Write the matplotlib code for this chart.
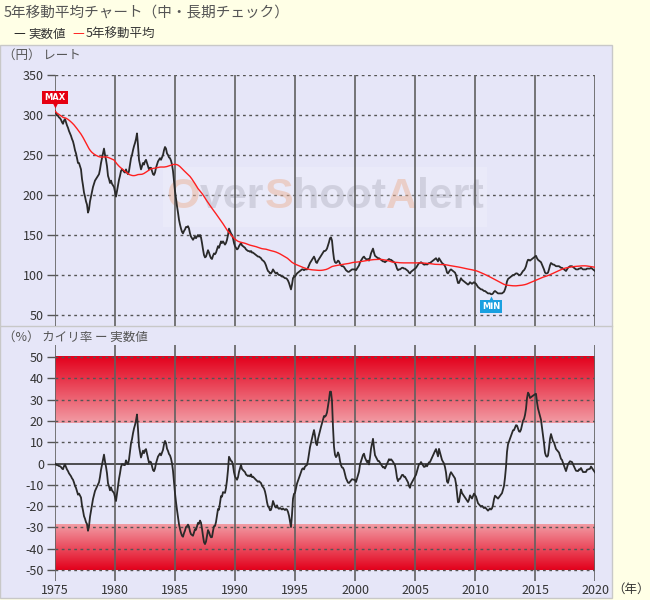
import numpy as np
import pandas as pd
import matplotlib
matplotlib.use("Agg")
import matplotlib.pyplot as plt
from matplotlib.colors import LinearSegmentedColormap
from matplotlib.patches import Rectangle
from matplotlib.transforms import offset_copy

plt.rcParams['font.family'] = ['Noto Sans CJK JP', 'DejaVu Sans']
plt.rcParams['axes.unicode_minus'] = False

# -------------------------
# Dados (USD/JPY, valores mensais)
# -------------------------
inicio = 1975
taxa_por_ano = [
    [305, 302, 300, 299, 297, 296, 294, 291, 289, 293, 295, 291],  # 1975
    [287, 284, 280, 277, 274, 270, 267, 262, 256, 252, 246, 240],  # 1976
    [240, 236, 232, 220, 212, 203, 198, 192, 188, 178, 182, 192],  # 1977
    [198, 204, 210, 214, 218, 220, 222, 224, 226, 232, 240, 246],  # 1978
    [252, 258, 250, 244, 236, 224, 220, 215, 218, 214, 212, 210],  # 1979
    [204, 198, 205, 212, 219, 224, 230, 232, 231, 229, 228, 232],  # 1980
    [228, 226, 230, 238, 246, 250, 256, 261, 265, 270, 277, 262],  # 1981
    [244, 238, 232, 236, 240, 238, 242, 244, 240, 236, 232, 234],  # 1982
    [234, 230, 226, 225, 228, 234, 238, 242, 244, 246, 244, 247],  # 1983
    [250, 256, 260, 258, 252, 250, 247, 246, 243, 238, 230, 217],  # 1984
    [205, 195, 186, 178, 169, 163, 158, 154, 152, 155, 157, 160],  # 1985
    [160, 161, 158, 152, 148, 146, 144, 146, 148, 146, 148, 150],  # 1986
    [148, 150, 147, 140, 132, 125, 122, 123, 127, 131, 128, 124],  # 1987
    [121, 120, 124, 127, 126, 128, 132, 136, 134, 138, 142, 140],  # 1988
    [142, 140, 138, 140, 144, 150, 158, 155, 152, 150, 146, 140],  # 1989
    [136, 134, 132, 133, 136, 138, 140, 137, 136, 135, 134, 132],  # 1990
    [131, 130, 130, 129, 130, 128, 128, 127, 126, 125, 124, 123],  # 1991
    [123, 122, 121, 119, 118, 117, 115, 112, 108, 105, 104, 102],  # 1992
    [102, 104, 107, 105, 103, 102, 103, 101, 100, 100, 99, 98],    # 1993
    [98, 97, 96, 96, 95, 93, 90, 86, 82, 88, 96, 98],              # 1994
    [98, 100, 102, 103, 104, 105, 106, 107, 107, 106, 107, 107],   # 1995
    [107, 109, 112, 115, 117, 119, 121, 123, 120, 116, 115, 118],  # 1996
    [120, 122, 124, 126, 128, 130, 130, 131, 133, 137, 141, 146],  # 1997
    [147, 143, 130, 120, 116, 115, 116, 118, 117, 114, 112, 111],  # 1998
    [111, 110, 108, 106, 105, 104, 104, 105, 106, 107, 107, 107],  # 1999
    [107, 106, 108, 110, 112, 116, 118, 120, 122, 123, 121, 120],  # 2000
    [119, 120, 118, 122, 127, 130, 133, 128, 124, 123, 122, 121],  # 2001
    [121, 120, 119, 118, 117, 117, 116, 117, 118, 119, 120, 119],  # 2002
    [119, 118, 117, 116, 115, 112, 108, 106, 107, 107, 108, 109],  # 2003
    [109, 108, 108, 107, 106, 105, 103, 102, 104, 105, 106, 107],  # 2004
    [108, 109, 111, 113, 115, 115, 116, 115, 114, 113, 113, 114],  # 2005
    [113, 114, 115, 115, 116, 117, 118, 119, 120, 121, 119, 117],  # 2006
    [121, 119, 117, 115, 114, 113, 111, 108, 103, 102, 104, 106],  # 2007
    [107, 106, 105, 104, 103, 100, 95, 90, 90, 93, 96, 94],        # 2008
    [93, 92, 91, 90, 89, 88, 89, 91, 90, 89, 90, 91],              # 2009
    [90, 89, 87, 85, 84, 83, 82, 82, 81, 80, 80, 79],              # 2010
    [78, 77, 77, 77, 76, 76, 77, 79, 80, 79, 78, 77],              # 2011
    [77, 77, 77, 77, 78, 79, 82, 86, 92, 95, 96, 97],              # 2012
    [98, 99, 100, 100, 101, 102, 102, 101, 100, 100, 101, 103],    # 2013
    [105, 106, 108, 111, 116, 119, 119, 118, 119, 120, 121, 122],  # 2014
    [123, 124, 121, 119, 118, 117, 116, 113, 110, 107, 103, 102],  # 2015
    [102, 103, 107, 112, 115, 114, 113, 113, 112, 111, 111, 111],  # 2016
    [111, 110, 109, 109, 108, 107, 106, 105, 107, 109, 110, 111],  # 2017
    [111, 111, 110, 109, 108, 107, 107, 107, 108, 108, 109, 108],  # 2018
    [107, 107, 107, 107, 108, 108, 108, 108, 109, 108, 107, 106],  # 2019
    [105],                                                         # 2020
]

anos_ticks = [1975, 1980, 1985, 1990, 1995, 2000, 2005, 2010, 2015, 2020]
ticks_taxa = [50, 100, 150, 200, 250, 300, 350]
ticks_kairi = [50, 40, 30, 20, 10, 0, -10, -20, -30, -40, -50]
faixa_alta = (18.8, 50)
faixa_baixa = (-50, -28.5)

# -------------------------
# Séries derivadas
# -------------------------
taxa = pd.Series([v for linha in taxa_por_ano for v in linha], dtype=float)
tempo = inicio + np.arange(len(taxa)) / 12.0
media5 = taxa.rolling(60, min_periods=1).mean()
kairi = (taxa / media5 - 1.0) * 100.0

# -------------------------
# Figura
# -------------------------
amarelo = '#FFFFE6'
lavanda = '#E6E6F8'
cinza_txt = '#555555'

fig = plt.figure(figsize=(6.5, 6.0), dpi=100, facecolor=amarelo)
W, H = 650.0, 600.0

def fx(px):
    return px / W

def fy(py):
    return 1 - py / H

# painel de fundo (atrás dos eixos)
fig.patches.append(Rectangle((fx(0), fy(598)), fx(612), 553 / H,
                             transform=fig.transFigure, facecolor=lavanda,
                             edgecolor='#C8C8C8', linewidth=1, zorder=-10))
fig.add_artist(plt.Line2D([fx(0), fx(612)], [fy(326), fy(326)],
                          transform=fig.transFigure, color='#C8C8C8', lw=1, zorder=-5))

# textos de cabeçalho
fig.text(fx(4), fy(13), '5年移動平均チャート（中・長期チェック）', fontsize=10.5,
         color=cinza_txt, va='center', ha='left')
fig.text(fx(13), fy(34), '—', fontsize=9.5, color='#222222', va='center')
fig.text(fx(28), fy(34), '実数値', fontsize=9, color='#333333', va='center')
fig.text(fx(72), fy(34), '—', fontsize=9.5, color='#FF2020', va='center')
fig.text(fx(86), fy(34), '5年移動平均', fontsize=9, color='#333333', va='center')
fig.text(fx(3), fy(55), '（円） レート', fontsize=9, color=cinza_txt, va='center')
fig.text(fx(3), fy(337), '（%） カイリ率 ー 実数値', fontsize=9, color=cinza_txt, va='center')
fig.text(fx(612), fy(589), '（年）', fontsize=9, color='#333333', va='center')


def estilo_eixo(ax, yticks, labels=True):
    ax.set_facecolor('none')
    for s in ax.spines.values():
        s.set_visible(False)
    ax.set_xlim(1975, 2020)
    ax.set_yticks(yticks)
    ax.set_yticklabels([str(v) for v in yticks])
    ax.tick_params(axis='y', length=6, width=1, color='#555555', labelsize=9,
                   labelcolor='#333333', pad=2)
    ax.set_xticks(anos_ticks)
    ax.tick_params(axis='x', length=0, labelsize=9, labelcolor='#333333', pad=2)
    if not labels:
        ax.set_xticklabels([])
    for a in anos_ticks:
        ax.axvline(a, color='#606060', lw=1.2, zorder=2)


# -------------------------
# Painel superior: taxa e média móvel
# -------------------------
ax1 = fig.add_axes([fx(55), fy(326), fx(540), (326 - 75) / H])
ax1.set_ylim(350 - 251 / 0.8, 350)
estilo_eixo(ax1, ticks_taxa, labels=False)
for v in ticks_taxa:
    ax1.axhline(v, color='#555555', lw=1, ls=(0, (2, 2.5)), zorder=1)

# marca d'água (logotipo em texto)
ax1.add_patch(Rectangle((1984.0, 160), 27.0, 75, facecolor='white', alpha=0.2,
                        edgecolor='none', zorder=1))
pedacos = [('O', '#EBA27A'), ('ver', '#A8A8B6'), ('S', '#EBA27A'),
           ('hoot', '#A8A8B6'), ('A', '#EBA27A'), ('lert', '#A8A8B6')]
anterior = None
for txt, cor in pedacos:
    kw = dict(fontsize=31, fontweight='bold', family='Liberation Sans', color=cor,
              alpha=0.38, zorder=1)
    if anterior is None:
        anterior = ax1.text(1984.3, 198, txt, ha='left', va='center', **kw)
    else:
        anterior = ax1.annotate(txt, xy=(1, 0), xycoords=anterior, ha='left',
                                va='bottom', **kw)

ax1.plot(tempo, taxa, color='#2A2A2A', lw=1.3, zorder=3)
ax1.plot(tempo, media5, color='#FF2020', lw=1.0, zorder=4)

i_max = int(taxa.idxmax())
i_min = int(taxa.idxmin())
ax1.annotate('MAX', xy=(tempo[i_max], taxa[i_max]), xytext=(0, 10),
             textcoords='offset points', ha='center', va='center',
             fontsize=6, fontweight='bold', color='white', family='DejaVu Sans',
             bbox=dict(boxstyle='square,pad=0.25', fc='#E60012', ec='none'),
             zorder=6, annotation_clip=False)
ax1.plot(tempo[i_max], taxa[i_max], marker='v', ms=4, color='#E60012', mec='none',
         transform=offset_copy(ax1.transData, fig, x=0, y=4.5, units='points'),
         zorder=6, clip_on=False)
ax1.annotate('MIN', xy=(tempo[i_min], taxa[i_min]), xytext=(0, -9),
             textcoords='offset points', ha='center', va='center',
             fontsize=6, fontweight='bold', color='white', family='DejaVu Sans',
             bbox=dict(boxstyle='square,pad=0.25', fc='#1AA0E0', ec='none'),
             zorder=6, annotation_clip=False)
ax1.plot(tempo[i_min], taxa[i_min], marker='^', ms=4, color='#1AA0E0', mec='none',
         transform=offset_copy(ax1.transData, fig, x=0, y=-3.5, units='points'),
         zorder=6, clip_on=False)

# -------------------------
# Painel inferior: taxa de desvio (カイリ率)
# -------------------------
ax2 = fig.add_axes([fx(55), fy(581), fx(540), (581 - 345) / H])
estilo_eixo(ax2, ticks_kairi)

cmap = LinearSegmentedColormap.from_list('banda', ['#F29CA5', '#E3001B'])
grad = np.linspace(0, 1, 256).reshape(-1, 1)
ax2.imshow(grad, extent=[1975, 2020, faixa_alta[0], faixa_alta[1]], cmap=cmap,
           aspect='auto', origin='lower', zorder=0)
ax2.imshow(grad[::-1], extent=[1975, 2020, faixa_baixa[0], faixa_baixa[1]], cmap=cmap,
           aspect='auto', origin='lower', zorder=0)
ax2.set_xlim(1975, 2020)
ax2.set_ylim(-50 - 11 / 2.13, 50 + 12 / 2.13)

for v in ticks_kairi:
    if v == 0:
        ax2.axhline(0, color='#333333', lw=1.2, zorder=1)
    else:
        ax2.axhline(v, color='#555555', lw=1, ls=(0, (2, 2.5)), zorder=1)

ax2.plot(tempo, kairi, color='#2A2A2A', lw=1.3, zorder=3)

fig.savefig('out.png', dpi=100, facecolor=amarelo)
